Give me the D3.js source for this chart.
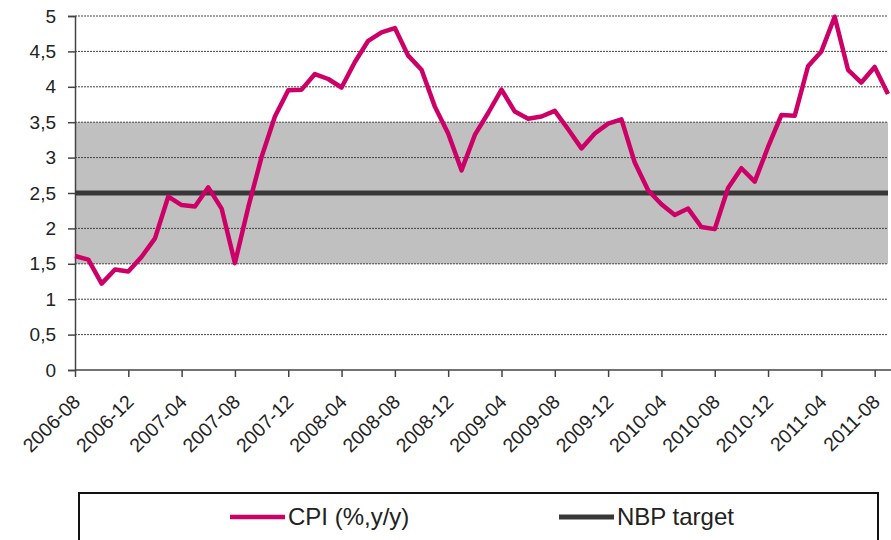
<!DOCTYPE html>
<html>
<head>
<meta charset="utf-8">
<script src="https://cdn.jsdelivr.net/npm/d3@7"></script>
<style>
  body { margin: 0; background: #fff; }
  svg text { font-family: "Liberation Sans", Arial, sans-serif; fill: #222; }
</style>
</head>
<body>
<div id="chart"></div>
<script>
// months shown on the x axis (monthly, 2006-08 .. 2011-09)
var months = [
  "2006-08","2006-09","2006-10","2006-11","2006-12",
  "2007-01","2007-02","2007-03","2007-04","2007-05","2007-06","2007-07","2007-08","2007-09","2007-10","2007-11","2007-12",
  "2008-01","2008-02","2008-03","2008-04","2008-05","2008-06","2008-07","2008-08","2008-09","2008-10","2008-11","2008-12",
  "2009-01","2009-02","2009-03","2009-04","2009-05","2009-06","2009-07","2009-08","2009-09","2009-10","2009-11","2009-12",
  "2010-01","2010-02","2010-03","2010-04","2010-05","2010-06","2010-07","2010-08","2010-09","2010-10","2010-11","2010-12",
  "2011-01","2011-02","2011-03","2011-04","2011-05","2011-06","2011-07","2011-08","2011-09"
];

// CPI (%, y/y)
var cpi = [
  1.61, 1.56, 1.22, 1.42, 1.39,
  1.60, 1.86, 2.45, 2.33, 2.31, 2.58, 2.28, 1.51, 2.30, 3.01, 3.58, 3.95,
  3.96, 4.18, 4.11, 3.99, 4.35, 4.65, 4.77, 4.83, 4.44, 4.24, 3.72, 3.34,
  2.82, 3.32, 3.63, 3.96, 3.65, 3.55, 3.58, 3.66, 3.40, 3.13, 3.34, 3.48,
  3.54, 2.93, 2.54, 2.34, 2.19, 2.28, 2.02, 1.99, 2.57, 2.85, 2.66, 3.15,
  3.60, 3.59, 4.29, 4.50, 4.99, 4.24, 4.06, 4.28, 3.90
];

// NBP inflation target and tolerance band
var nbpTarget = 2.5;
var bandLow = 1.5, bandHigh = 3.5;

var yTicks = [0, 0.5, 1, 1.5, 2, 2.5, 3, 3.5, 4, 4.5, 5];
var xLabels = ["2006-08","2006-12","2007-04","2007-08","2007-12","2008-04","2008-08","2008-12",
               "2009-04","2009-08","2009-12","2010-04","2010-08","2010-12","2011-04","2011-08"];

var legendKeys = ["CPI (%,y/y)", "NBP target"];

var svgWidth = 891, svgHeight = 540;
var margin = { top: 16, right: 3, bottom: 170, left: 75 },
    width = svgWidth - margin.left - margin.right,
    height = svgHeight - margin.top - margin.bottom;

var colCpi = "#cc0066", colTarget = "#383838";

var x = d3.scaleLinear().domain([0, months.length - 1]).range([0, width]);
var y = d3.scaleLinear().domain([0, 5]).range([height, 0]);

var svg = d3.select("#chart").append("svg")
    .attr("width", svgWidth)
    .attr("height", svgHeight);

var g = svg.append("g")
    .attr("transform", `translate(${margin.left},${margin.top})`);

// tolerance band
g.append("rect")
    .attr("x", 0)
    .attr("y", y(bandHigh))
    .attr("width", width)
    .attr("height", y(bandLow) - y(bandHigh))
    .attr("fill", "#c0c0c0");

// horizontal gridlines
g.selectAll(".grid")
    .data(yTicks.filter(d => d > 0))
    .enter().append("line")
    .attr("class", "grid")
    .attr("x1", 0).attr("x2", width)
    .attr("y1", d => y(d)).attr("y2", d => y(d))
    .attr("stroke", "#444")
    .attr("stroke-width", 1)
    .attr("stroke-dasharray", "2,1");

// Y axis
var yAxis = d3.axisLeft(y)
    .tickValues(yTicks)
    .tickSize(7)
    .tickPadding(12)
    .tickFormat(d => String(d).replace(".", ","));

var yg = g.append("g").attr("class", "y axis").call(yAxis);
yg.select(".domain").attr("stroke", "#444").attr("stroke-width", 1.5);
yg.selectAll(".tick line").attr("stroke", "#444").attr("stroke-width", 1.5);
yg.selectAll("text").style("font-size", "19px").attr("fill", "#222");

// X axis
var xAxis = d3.axisBottom(x)
    .tickValues(xLabels.map(m => months.indexOf(m)))
    .tickSize(7)
    .tickFormat(i => months[i]);

var xg = g.append("g")
    .attr("class", "x axis")
    .attr("transform", `translate(0,${height})`)
    .call(xAxis);
xg.select(".domain").attr("stroke", "#444").attr("stroke-width", 1.5)
    .attr("d", `M0,0H${width + 3}`);
xg.selectAll(".tick line").attr("stroke", "#444").attr("stroke-width", 1.5);
xg.selectAll("text")
    .style("font-size", "19.5px")
    .attr("fill", "#222")
    .attr("text-anchor", "end")
    .attr("x", 0).attr("y", 0).attr("dy", 0)
    .attr("transform", "translate(6,33) rotate(-45)");

// NBP target line
g.append("line")
    .attr("x1", x(0)).attr("x2", x(months.length - 1))
    .attr("y1", y(nbpTarget)).attr("y2", y(nbpTarget))
    .attr("stroke", colTarget)
    .attr("stroke-width", 5);

// CPI line
var valueline = d3.line()
    .x((d, i) => x(i))
    .y(d => y(d));

g.append("path")
    .datum(cpi)
    .attr("fill", "none")
    .attr("stroke", colCpi)
    .attr("stroke-width", 4.5)
    .attr("stroke-linejoin", "round")
    .attr("d", valueline);

// legend box
svg.append("rect")
    .attr("x", 79).attr("y", 493)
    .attr("width", 799).attr("height", 60)
    .attr("fill", "#fff")
    .attr("stroke", "#111")
    .attr("stroke-width", 2);

const colDict = {
    "CPI (%,y/y)": colCpi,
    "NBP target": colTarget
};
var legendX = [230, 559];

var lineLegend = svg.selectAll(".lineLegend").data(legendKeys)
    .enter().append("g")
    .attr("class", "lineLegend")
    .attr("transform", (d, i) => `translate(${legendX[i]},517)`);

lineLegend.append("line")
    .attr("x1", 0).attr("x2", 55)
    .attr("stroke", d => colDict[d])
    .attr("stroke-width", d => d === "NBP target" ? 5 : 4.5);

lineLegend.append("text")
    .text(d => d)
    .attr("x", 58)
    .attr("y", 8)
    .style("font-size", "24px");
</script>
</body>
</html>
